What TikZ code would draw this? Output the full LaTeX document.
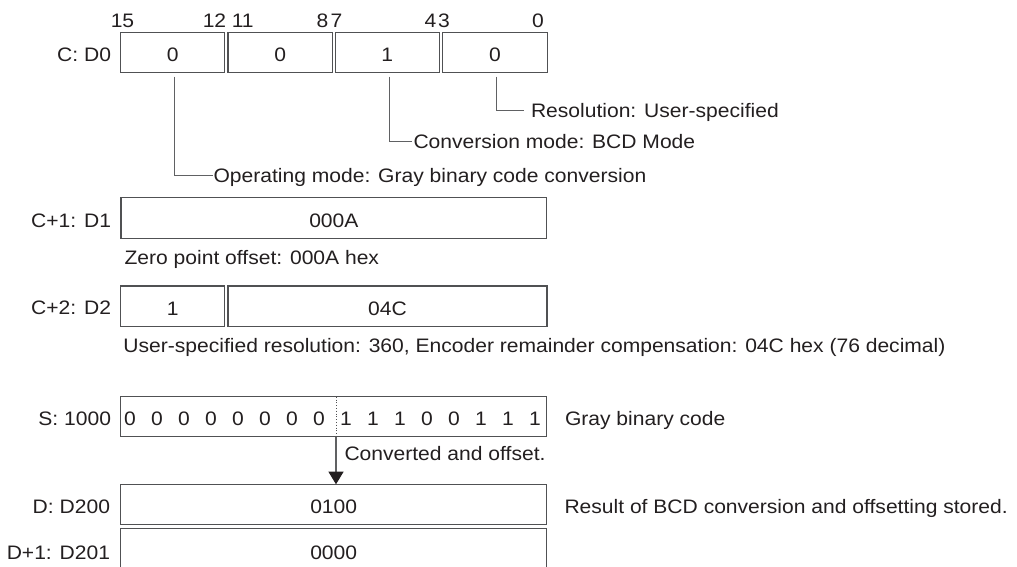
\documentclass[tikz,border=0pt]{standalone}
\usepackage{fontspec}
\setmainfont{Liberation Sans}[FakeStretch=1.08]
\usetikzlibrary{arrows.meta}
\definecolor{ink}{HTML}{231F20}
\definecolor{boxline}{HTML}{505153}
\definecolor{leadline}{HTML}{606163}
\begin{document}
\begin{tikzpicture}[x=1pt,y=-1pt,
  every node/.style={font=\fontsize{19.5}{23}\selectfont, text=ink, inner sep=0pt, outer sep=0pt, text height=14pt, text depth=0pt},
  regbox/.style={draw=boxline, line width=1.2pt, text height=18pt},
  leader/.style={draw=leadline, line width=1pt},
  divider/.style={draw=boxline, line width=0.8pt, dotted},
  arr/.style={draw=leadline, line width=1.1pt, -{Triangle[width=15pt,length=12.6pt,color=ink]}}
]
\clip (0,0) rectangle (1017,567);
\fill[white] (0,0) rectangle (1017,567);

% ---- C: D0 ----
\node[anchor=east] (lc0) at (111,54.5) {C: D0};
\node[regbox, minimum width=104pt, minimum height=40.4pt] (c0a) at (172.7,52.5) {0};
\node[regbox, minimum width=104.3pt, minimum height=40.4pt] (c0b) at (280.15,52.5) {0};
\node[regbox, minimum width=104pt, minimum height=40.4pt] (c0c) at (387.3,52.5) {1};
\node[regbox, minimum width=104.6pt, minimum height=40.4pt] (c0d) at (495,52.5) {0};
% bit numbers
\node (n15) at (122.5,20.7) {15};
\node (n12) at (214.5,20.7) {12};
\node (n11) at (242.7,20.7) {11};
\node (n8) at (322.5,20.7) {8};
\node (n7) at (336.5,20.7) {7};
\node (n4) at (430.5,20.7) {4};
\node (n3) at (444,20.7) {3};
\node (n0) at (538,20.7) {0};

% leader texts
\node[anchor=west] (tres) at (531,110.3) {Resolution: User-specified};
\node[anchor=west] (tconv) at (413.5,141.7) {Conversion mode: BCD Mode};
\node[anchor=west] (top) at (213.6,175.5) {Operating mode: Gray binary code conversion};
\draw[leader] ([xshift=1.7pt,yshift=-4pt]c0d.south) |- ([xshift=-7pt]tres.west);
\draw[leader] ([xshift=1.7pt,yshift=-4pt]c0c.south) |- ([xshift=-1.8pt]tconv.west);
\draw[leader] ([xshift=1.5pt,yshift=-4pt]c0a.south) |- ([xshift=-0.3pt]top.west);

% ---- C+1: D1 ----
\node[anchor=east] (lc1) at (111,220) {C+1: D1};
\node[regbox, minimum width=425.7pt, minimum height=40.6pt] (c1) at (333.85,218) {000A};
\node[anchor=west] (tzero) at (124.6,257.5) {Zero point offset: 000A hex};

% ---- C+2: D2 ----
\node[anchor=east] (lc2) at (111,307.5) {C+2: D2};
\node[regbox, minimum width=104pt, minimum height=40.7pt] (c2a) at (172.7,306.35) {1};
\node[regbox, minimum width=319pt, minimum height=40.7pt] (c2b) at (387.5,306.35) {04C};
\node[anchor=west] (tuser) at (123.4,345.5) {User-specified resolution: 360, Encoder remainder compensation: 04C hex (76 decimal)};

% ---- S: 1000 ----
\node[anchor=east] (ls) at (111,418.5) {S: 1000};
\node[regbox, minimum width=426pt, minimum height=40pt] (sbox) at (333.7,416.7) {};
\foreach \b [count=\i from 0] in {0,0,0,0,0,0,0,0,1,1,1,0,0,1,1,1}{
  \node (s\i) at (130+27*\i,418.5) {\b};
}
\coordinate (div) at (336,416.7);
\draw[divider] (div |- sbox.north) -- (div |- sbox.south);
\node[anchor=west] (tgray) at (565,418.5) {Gray binary code};

% ---- D: D200 / D+1: D201 ----
\node[anchor=east] (ld0) at (110,506) {D: D200};
\node[regbox, minimum width=426pt, minimum height=40pt] (d0) at (333.7,504.3) {0100};
\node[anchor=east] (ld1) at (110,552) {D+1: D201};
\node[regbox, minimum width=426pt, minimum height=43.3pt] (d1) at (333.7,550.35) {0000};
\node[anchor=west] (tres2) at (564.5,506) {Result of BCD conversion and offsetting stored.};

\draw[arr] (div |- sbox.south) -- (div |- d0.north);
\node[anchor=west] (tconvd) at (344.5,453.3) {Converted and offset.};
\end{tikzpicture}
\end{document}
